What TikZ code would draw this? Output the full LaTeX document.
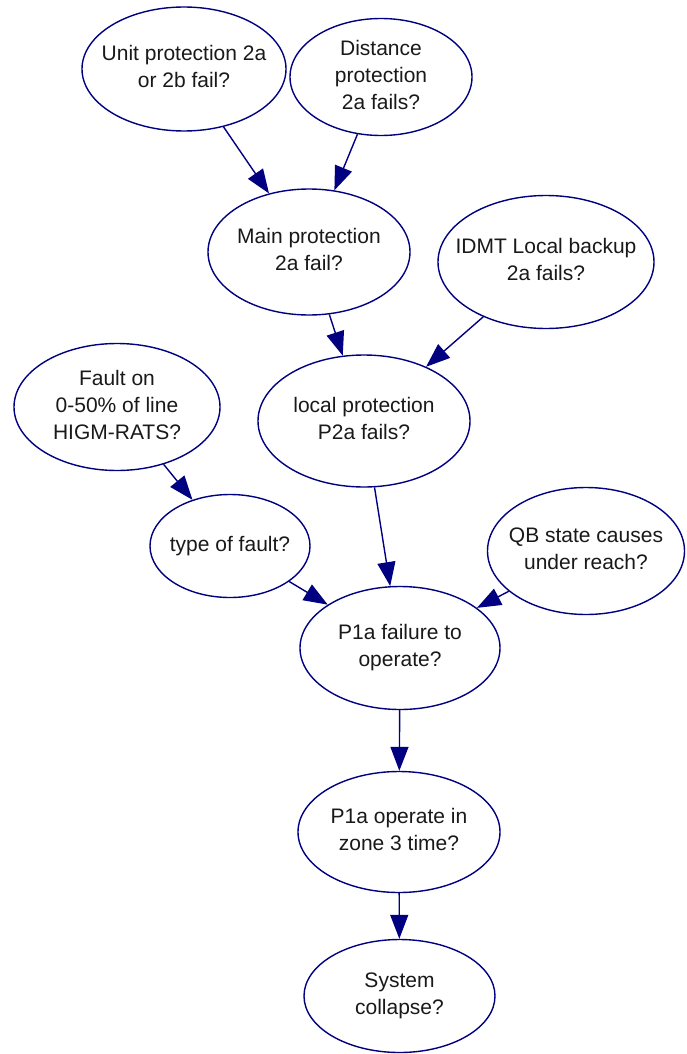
\documentclass[tikz,border=0pt]{standalone}
\usepackage{fontspec}
\setmainfont{Liberation Sans}
\usetikzlibrary{shapes.geometric,arrows.meta}
\definecolor{edgeblue}{RGB}{0,0,128}
\definecolor{labelink}{RGB}{25,25,25}
% zero-size box so the ellipse keeps its given size
\newcommand{\ctext}[1]{\vbox to 0pt{\vss\hbox to 0pt{\hss\begin{tabular}{@{}c@{}}#1\end{tabular}\hss}\vss}}
\begin{document}
\begin{tikzpicture}[x=1pt,y=-1pt,
  chance/.style={ellipse, draw=edgeblue, line width=1.4pt, fill=white, inner sep=0pt,
    text=labelink, font=\fontsize{21}{27}\selectfont},
  link/.style={draw=edgeblue, line width=1.4pt, -{Triangle[length=24pt,width=18pt]}}]
\useasboundingbox (0,0) rectangle (686,1054);
\fill[white] (0,0) rectangle (686,1054);

\node[chance, minimum width=204pt, minimum height=124pt] (unit) at (184,69) {\ctext{Unit protection 2a\\or 2b fail?}};
\node[chance, minimum width=182pt, minimum height=117pt] (dist) at (381,77) {\ctext{Distance\\protection\\2a fails?}};
\node[chance, minimum width=202pt, minimum height=126pt] (main) at (309,252) {\ctext{Main protection\\2a fail?}};
\node[chance, minimum width=216pt, minimum height=133pt] (idmt) at (546,262) {\ctext{IDMT Local backup\\2a fails?}};
\node[chance, minimum width=206pt, minimum height=127pt] (fault) at (117,407) {\ctext{Fault on\\0-50\% of line\\HIGM-RATS?}};
\node[chance, minimum width=212pt, minimum height=132pt] (local) at (364,421) {\ctext{local protection\\P2a fails?}};
\node[chance, minimum width=160pt, minimum height=103pt] (type) at (230,546) {\ctext{type of fault?}};
\node[chance, minimum width=197pt, minimum height=127pt] (qb) at (586,551) {\ctext{QB state causes\\under reach?}};
\node[chance, minimum width=200pt, minimum height=123pt] (fail) at (400,648) {\ctext{P1a failure to\\operate?}};
\node[chance, minimum width=202pt, minimum height=121pt] (zone) at (399,832) {\ctext{P1a operate in\\zone 3 time?}};
\node[chance, minimum width=191pt, minimum height=113pt] (coll) at (399.5,996) {\ctext{System\\collapse?}};

\draw[link] (unit) -- (main);
\draw[link] (dist) -- (main);
\draw[link] (main) -- (local);
\draw[link] (idmt) -- (local);
\draw[link] (fault) -- (type);
\draw[link] (local) -- (fail);
\draw[link] (type) -- (fail);
\draw[link] (qb) -- (fail);
\draw[link] (fail) -- (zone);
\draw[link] (zone) -- (coll);
\end{tikzpicture}
\end{document}
